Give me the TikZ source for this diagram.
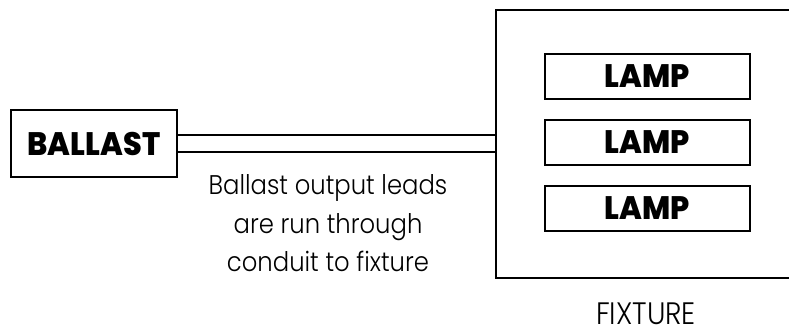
\documentclass[tikz,border=0pt]{standalone}
\usepackage{fontspec}
\setmainfont{Poppins}
\newfontfamily\lightfont{Poppins Light}[FakeStretch=0.9]
\newfontfamily\boldfont{Poppins ExtraBold}[FakeStretch=0.93]
\begin{document}
\begin{tikzpicture}[x=1pt,y=-1pt,
  box/.style={draw,line width=2pt,rectangle,inner sep=0pt},
  boldlabel/.style={font=\boldfont\fontsize{32.5}{32.5}\selectfont},
  wire/.style={line width=2pt}]
\useasboundingbox (0,0) rectangle (789,335);
\clip (0,0) rectangle (789,335);
\node[box,minimum width=166pt,minimum height=67pt,boldlabel] (ballast) at (94,143.5) {BALLAST};
\node[box,minimum width=320pt,minimum height=268pt,anchor=north west] (fixture) at (495,9) {};
\foreach \i/\yy in {1/76.5,2/142.5,3/208.5}{
  \node[box,minimum width=205pt,minimum height=45pt,boldlabel] (lamp\i) at (647.5,\yy) {LAMP};
}
\draw[wire] (ballast.east |- 0,135) -- (fixture.west |- 0,135);
\draw[wire] (ballast.east |- 0,152) -- (fixture.west |- 0,152);
\node[font=\lightfont\fontsize{27}{38.5}\selectfont,align=center,anchor=north] (note) at (328,171) {Ballast output leads\\are run through\\conduit to fixture};
\node[font=\lightfont\fontsize{31}{31}\selectfont] (fixlabel) at (646,313.5) {FIXTURE};
\end{tikzpicture}
\end{document}
